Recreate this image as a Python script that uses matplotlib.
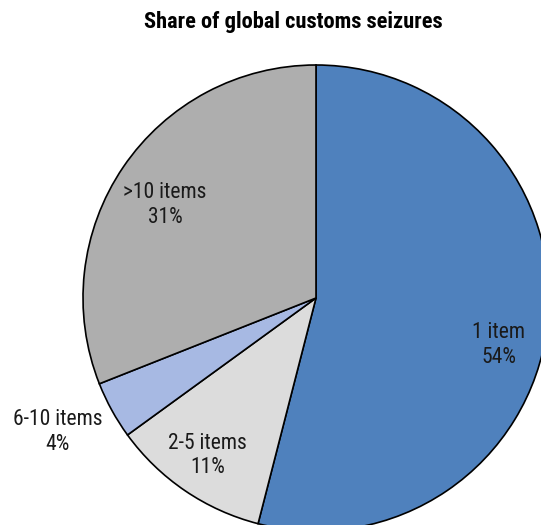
import matplotlib
matplotlib.use("Agg")
import matplotlib.pyplot as plt
import numpy as np

plt.rcParams["font.family"] = ["Roboto Condensed", "Archivo Narrow", "DejaVu Sans"]

categories = ["1 item", "2-5 items", "6-10 items", ">10 items"]
shares = [54, 11, 4, 31]
colors = ["#4F81BD", "#DCDCDC", "#A7B9E3", "#AEAEAE"]

# label placement: (fraction of radius, offset in degrees from wedge middle)
label_place = [(0.81, -7.3), (0.82, -0.3), (1.25, -1.4), (0.76, 2.6)]

W, H = 541, 525
fig = plt.figure(figsize=(W / 100, H / 100), dpi=100)
ax = fig.add_axes([0, 0, 1, 1])

cx, cy, r = 316, H - 298, 233
wedges, _ = ax.pie(shares, colors=colors, startangle=90, counterclock=False,
                   center=(cx, cy), radius=r, frame=True,
                   wedgeprops=dict(edgecolor="black", linewidth=1.2))
ax.set_xlim(0, W)
ax.set_ylim(0, H)
ax.set_aspect("equal")
ax.axis("off")

for w, cat, val, (dist, off) in zip(wedges, categories, shares, label_place):
    mid = np.deg2rad((w.theta1 + w.theta2) / 2 + off)
    x = cx + dist * r * np.cos(mid)
    y = cy + dist * r * np.sin(mid)
    ax.text(x, y, f"{cat}\n{val}%", ha="center", va="center", fontsize=15.5,
            linespacing=1.22, color="#1a1a1a")

fig.text(293 / W, 1 - 22 / H, "Share of global customs seizures", ha="center",
         va="center", fontsize=16.2, fontweight="bold")

fig.savefig("out.png", dpi=100)
